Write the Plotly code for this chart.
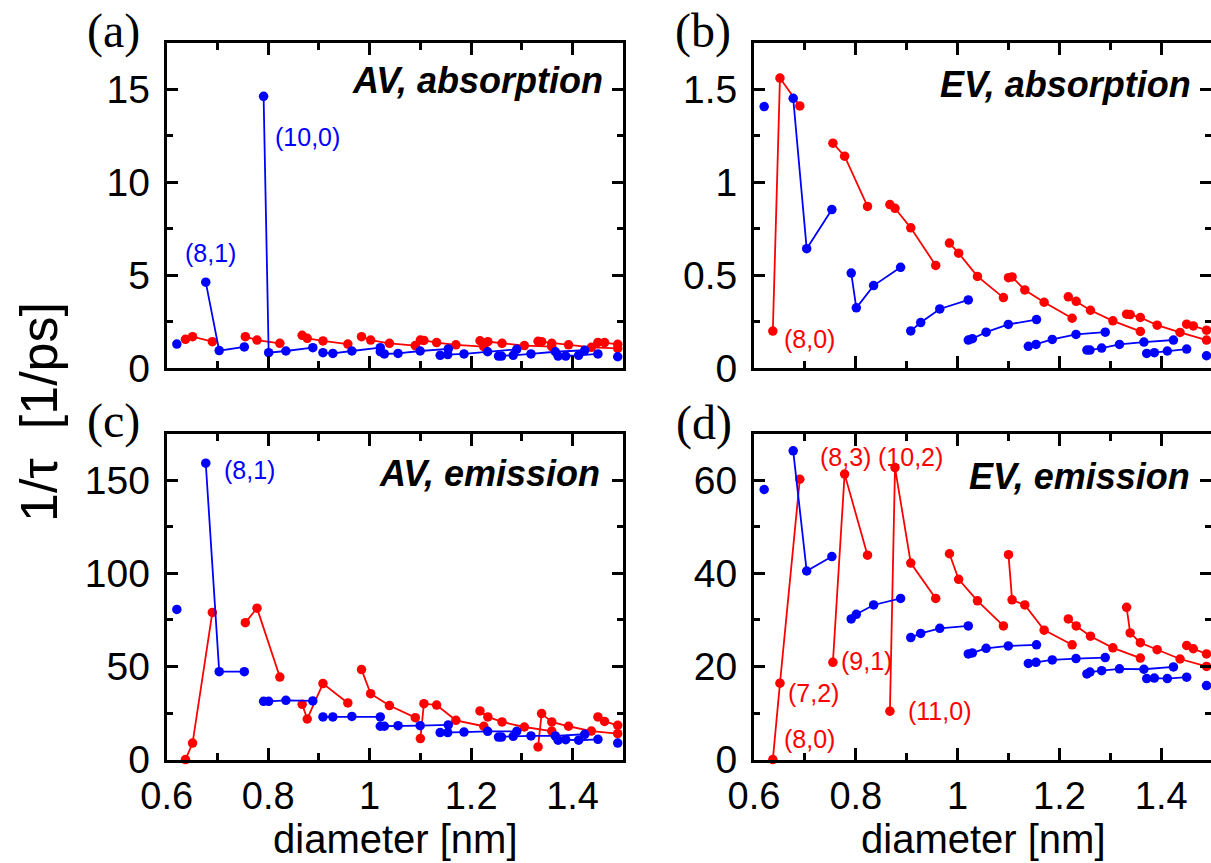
import plotly.graph_objects as go

W, H = 1211, 863

# ---------------- data ----------------
# tube diameters (nm), grouped in 2n+m families
RED_D = [
    [0.637, 0.651, 0.690],
    [0.755, 0.778, 0.823],
    [0.867, 0.877, 0.908, 0.957],
    [0.984, 1.002, 1.039, 1.090],
    [1.100, 1.107, 1.132, 1.170, 1.225],
    [1.2175, 1.233, 1.261, 1.305, 1.359],
    [1.332, 1.339, 1.359, 1.392, 1.437, 1.489],
    [1.450, 1.463, 1.489],
]
BLUE_D = [
    [0.620],
    [0.677, 0.7035, 0.753],
    [0.791, 0.801, 0.835, 0.888],
    [0.908, 0.9275, 0.965, 1.021],
    [1.021, 1.029, 1.056, 1.0996, 1.155],
    [1.139, 1.154, 1.186, 1.2326, 1.290],
    [1.254, 1.260, 1.283, 1.318, 1.366, 1.424],
    [1.3715, 1.3865, 1.412, 1.450],
    [1.489],
]

# (a) AV, absorption
A_RED = [
    [1.56, 1.70, 1.43],
    [1.70, 1.52, 1.34],
    [1.77, 1.61, 1.47, 1.30],
    [1.70, 1.52, 1.34, 1.22],
    [1.52, 1.50, 1.38, 1.26, 1.16],
    [1.48, 1.43, 1.34, 1.22, 1.16],
    [1.45, 1.43, 1.34, 1.26, 1.13, 1.07],
    [1.39, 1.38, 1.29],
]
A_BLUE = [
    [1.30],
    [4.63, 0.95, 1.15],
    [14.62, 0.84, 0.93, 1.11],
    [0.84, 0.80, 0.93, 1.11],
    [0.89, 0.77, 0.80, 0.93, 1.04],
    [0.70, 0.74, 0.77, 0.89, 1.02],
    [0.66, 0.66, 0.70, 0.77, 0.89, 0.97],
    [0.66, 0.66, 0.70, 0.77],
    [0.62],
]

# (b) EV, absorption
B_RED = [
    [0.20, 1.56, 1.41],
    [1.21, 1.14, 0.87],
    [0.88, 0.86, 0.755, 0.553],
    [0.673, 0.619, 0.494, 0.380],
    [0.487, 0.491, 0.421, 0.355, 0.269],
    [0.384, 0.360, 0.312, 0.255, 0.198],
    [0.291, 0.289, 0.273, 0.232, 0.193, 0.152],
    [0.237, 0.228, 0.205],
]
B_BLUE = [
    [1.407],
    [1.451, 0.643, 0.853],
    [0.512, 0.325, 0.4445, 0.543],
    [0.201, 0.246, 0.319, 0.3675],
    [0.152, 0.159, 0.194, 0.236, 0.262],
    [0.118, 0.1285, 0.155, 0.182, 0.194],
    [0.098, 0.098, 0.109, 0.1285, 0.141, 0.152],
    [0.080, 0.084, 0.093, 0.1035],
    [0.0675],
]

# (c) AV, emission
C_RED = [
    [0.0, 8.9, 79.0],
    [73.5, 81.3, 44.3],
    [29.7, 21.8, 40.8, 30.4],
    [48.3, 35.4, 29.0, 22.5],
    [11.3, 30.0, 29.3, 21.1, 17.9],
    [26.1, 22.9, 20.2, 17.5, 15.3],
    [6.8, 24.7, 20.2, 17.9, 15.3, 13.9],
    [22.9, 20.5, 18.4],
]
C_BLUE = [
    [80.6],
    [159.1, 47.2, 47.2],
    [31.3, 31.3, 31.8, 31.5],
    [22.9, 22.9, 23.2, 22.9],
    [17.9, 17.9, 18.2, 18.2, 18.6],
    [14.5, 14.5, 14.8, 15.2, 15.2],
    [12.1, 12.1, 12.5, 12.7, 12.7, 13.6],
    [10.4, 10.7, 10.4, 10.9],
    [8.9],
]

# (d) EV, emission
D_RED = [
    [0.0, 16.4, 60.2],
    [20.9, 61.3, 43.9],
    [10.4, 62.7, 42.2, 34.6],
    [44.2, 38.7, 34.1, 28.7],
    [44.0, 34.3, 33.2, 27.8, 24.65],
    [30.2, 28.7, 26.5, 24.0, 21.8],
    [32.7, 27.2, 25.1, 23.6, 21.6, 20.0],
    [24.5, 23.8, 22.7],
]
D_BLUE = [
    [58.0],
    [66.3, 40.5, 43.6],
    [30.2, 31.2, 33.2, 34.6],
    [26.2, 27.1, 28.2, 28.7],
    [22.7, 22.9, 23.9, 24.4, 24.65],
    [20.65, 20.9, 21.4, 21.7, 21.9],
    [18.4, 18.8, 19.1, 19.5, 19.4, 19.9],
    [17.4, 17.5, 17.4, 17.7],
    [15.9],
]

PANEL_TITLES = ["AV, absorption", "EV, absorption", "AV, emission", "EV, emission"]
PANEL_LETTERS = ["(a)", "(b)", "(c)", "(d)"]
Y_RANGES = [[0, 17.5], [0, 1.75], [0, 175], [0, 70]]
Y_DTICK = [5, 0.5, 50, 20]
X_TICKS = [0.6, 0.8, 1.0, 1.2, 1.4]
X_TICKTEXT = ["0.6", "0.8", "1", "1.2", "1.4"]
X_MINOR = [0.7, 0.9, 1.1, 1.3, 1.5]

RED = "#ff0000"
BLUE = "#0000ff"


def joined(families):
    out = []
    for i, f in enumerate(families):
        if i:
            out.append(None)
        out.extend(f)
    return out


fig = go.Figure()
panels = [(A_RED, A_BLUE), (B_RED, B_BLUE), (C_RED, C_BLUE), (D_RED, D_BLUE)]
for i, (rv, bv) in enumerate(panels):
    xa = "x" if i == 0 else f"x{i+1}"
    ya = "y" if i == 0 else f"y{i+1}"
    for d, v, c in ((RED_D, rv, RED), (BLUE_D, bv, BLUE)):
        fig.add_trace(go.Scatter(
            x=joined(d), y=joined(v), xaxis=xa, yaxis=ya, mode="lines+markers",
            line=dict(color=c, width=1.8), marker=dict(color=c, size=9.5),
            connectgaps=False, cliponaxis=False, showlegend=False, hoverinfo="skip"))

# ---------------- layout ----------------
px = lambda v: v / W
py = lambda v: 1 - v / H

XDOM = [[px(166.7), px(623.3)], [px(754), 1.0]]
YDOM = [[py(368.3), py(42.7)], [py(759.6), py(433.6)]]
XRANGE = [[0.6, 1.5], [0.6, 1.4978]]

SANS = "Liberation Sans, Arial, sans-serif"
TICKFONT = dict(family=SANS, size=39, color="black")
XTICKFONT = dict(family=SANS, size=38, color="black")

layout = dict(width=W, height=H, margin=dict(l=0, r=0, t=0, b=0, pad=0, autoexpand=False),
              paper_bgcolor="white", plot_bgcolor="white", showlegend=False)

for i in range(4):
    col = i % 2
    row = i // 2
    xk = "xaxis" if i == 0 else f"xaxis{i+1}"
    yk = "yaxis" if i == 0 else f"yaxis{i+1}"
    ya = "y" if i == 0 else f"y{i+1}"
    xa = "x" if i == 0 else f"x{i+1}"
    layout[xk] = dict(
        domain=XDOM[col], range=XRANGE[col], anchor=ya, automargin=False,
        showline=True, linecolor="black", linewidth=3, mirror="ticks",
        ticks="inside", ticklen=12, tickwidth=2.5, tickcolor="black",
        tickmode="array", tickvals=X_TICKS, ticktext=X_TICKTEXT,
        minor=dict(tickmode="array", tickvals=X_MINOR, ticks="inside", ticklen=7,
                   tickwidth=2.5, tickcolor="black"),
        showticklabels=(row == 1), tickfont=XTICKFONT, ticklabelstandoff=1,
        showgrid=False, zeroline=False, fixedrange=True)
    dt = Y_DTICK[i]
    layout[yk] = dict(
        domain=YDOM[row], range=Y_RANGES[i], anchor=xa, automargin=False,
        showline=True, linecolor="black", linewidth=3, mirror="ticks",
        ticks="inside", ticklen=11, tickwidth=2.5, tickcolor="black",
        tick0=0, dtick=dt,
        minor=dict(tick0=0, dtick=dt / 2, ticks="inside", ticklen=6,
                   tickwidth=2.5, tickcolor="black"),
        tickfont=TICKFONT, ticklabelstandoff=6,
        showgrid=False, zeroline=False, fixedrange=True)

fig.update_layout(**layout)

ann = []
# panel titles (bold italic)
TITLE_POS = [(605, 81), (1193, 84), (602, 473), (1192, 476)]
for t, (x0, y0) in zip(PANEL_TITLES, TITLE_POS):
    ann.append(dict(text=f"<b><i>{t}</i></b>", x=px(x0), y=py(y0), xref="paper", yref="paper",
                    xanchor="right", yanchor="middle", showarrow=False,
                    font=dict(family=SANS, size=36, color="black")))
# panel letters
LETTER_POS = [(113, 31), (703, 31), (113, 421), (704, 423)]
for t, (x0, y0) in zip(PANEL_LETTERS, LETTER_POS):
    ann.append(dict(text=t, x=px(x0), y=py(y0), xref="paper", yref="paper",
                    xanchor="center", yanchor="middle", showarrow=False,
                    font=dict(family="Liberation Serif, Times New Roman, serif", size=48, color="black")))
# chirality labels
LABELS = [
    ("(8,1)", BLUE, 210, 253), ("(10,0)", BLUE, 307, 137),
    ("(8,0)", RED, 810, 339),
    ("(8,1)", BLUE, 250, 470),
    ("(8,3)", RED, 845, 457), ("(10,2)", RED, 910, 457), ("(9,1)", RED, 866, 661),
    ("(7,2)", RED, 813, 693), ("(11,0)", RED, 939, 711), ("(8,0)", RED, 810, 739),
]
for t, c, x0, y0 in LABELS:
    ann.append(dict(text=t, x=px(x0), y=py(y0), xref="paper", yref="paper",
                    xanchor="center", yanchor="middle", showarrow=False,
                    font=dict(family=SANS, size=25, color=c)))
# axis titles
for x0 in (395, 983):
    ann.append(dict(text="diameter [nm]", x=px(x0), y=py(839), xref="paper", yref="paper",
                    xanchor="center", yanchor="middle", showarrow=False,
                    font=dict(family=SANS, size=40, color="black")))
ann.append(dict(text="1/\u03c4\u00a0\u00a0[1/ps]", x=px(39), y=py(412), xref="paper", yref="paper",
                xanchor="center", yanchor="middle", showarrow=False, textangle=-90,
                font=dict(family=SANS, size=52, color="black")))

fig.update_layout(annotations=ann)
fig.write_html("out.html")
